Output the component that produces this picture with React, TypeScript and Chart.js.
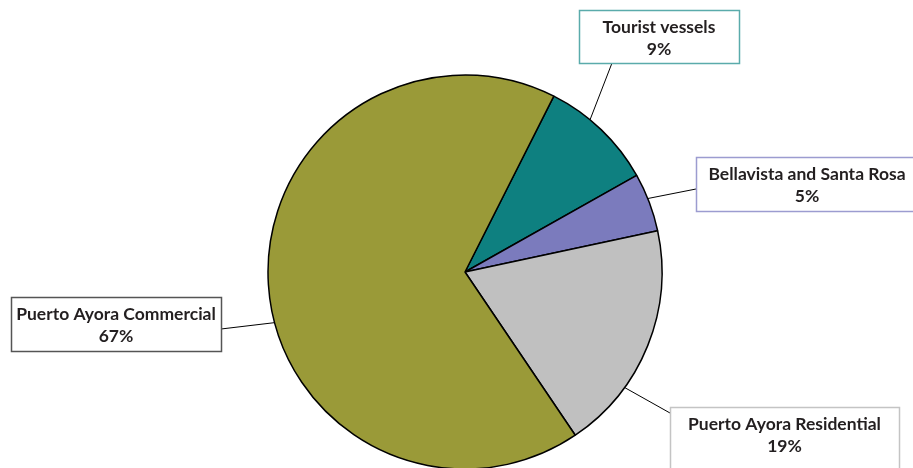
import { useEffect, useRef } from "react";
import { Chart, registerables } from "chart.js";

Chart.register(...registerables);

const categories = [
  "Tourist vessels",
  "Bellavista and Santa Rosa",
  "Puerto Ayora Residential",
  "Puerto Ayora Commercial",
];
const shares = [9.4, 4.8, 18.9, 66.9];
const sliceColors = ["#0E8080", "#7B7BBD", "#C0C0C0", "#9A9A38"];
const boxBorderColors = ["#5AABAB", "#9C9CD0", "#C4C4C4", "#555555"];

// callout layout: box rectangle, line attach point on the box, anchor angle on pie (deg from top, clockwise)
const callouts = [
  { box: [579, 10, 160, 53], attach: [612, 63], angle: 39.4 },
  { box: [696, 157, 222, 54], attach: [696, 189], angle: 68.1 },
  { box: [670, 407, 229, 64], attach: [670, 413], angle: 125.9 },
  { box: [11, 297, 210, 54], attach: [221, 329], angle: 255.1 },
];

const FONT = "bold 17.5px Lato";

const calloutPlugin = {
  id: "callouts",
  afterDatasetsDraw(chart: any) {
    const ctx = chart.ctx as CanvasRenderingContext2D;
    const meta = chart.getDatasetMeta(0);
    const data = chart.data.datasets[0].data as number[];
    const total = data.reduce((a, b) => a + b, 0);
    meta.data.forEach((arc: any, i: number) => {
      const { x, y, outerRadius } = arc.getProps(["x", "y", "outerRadius"], true);
      const c = callouts[i];
      const a = ((c.angle - 90) * Math.PI) / 180;
      const ax = x + outerRadius * Math.cos(a);
      const ay = y + outerRadius * Math.sin(a);
      ctx.save();
      ctx.strokeStyle = "#000";
      ctx.lineWidth = 1;
      ctx.beginPath();
      ctx.moveTo(ax, ay);
      ctx.lineTo(c.attach[0], c.attach[1]);
      ctx.stroke();
      const [bx, by, bw, bh] = c.box;
      ctx.fillStyle = "#fff";
      ctx.fillRect(bx, by, bw, bh);
      ctx.strokeStyle = boxBorderColors[i];
      ctx.lineWidth = 1.5;
      ctx.strokeRect(bx + 0.5, by + 0.5, bw, bh);
      ctx.fillStyle = "#231F20";
      ctx.font = FONT;
      ctx.textAlign = "center";
      ctx.textBaseline = "middle";
      const cx = bx + bw / 2;
      const pct = Math.round((data[i] / total) * 100) + "%";
      ctx.fillText(chart.data.labels[i], cx, by + 17);
      ctx.fillText(pct, cx, by + 39.5);
      ctx.restore();
    });
  },
};

export default function App() {
  const ref = useRef<HTMLCanvasElement | null>(null);
  useEffect(() => {
    if (!ref.current) return;
    const chart = new Chart(ref.current, {
      type: "pie",
      data: {
        labels: categories,
        datasets: [
          {
            data: shares,
            backgroundColor: sliceColors,
            borderColor: "#000",
            borderWidth: 1.5,
          },
        ],
      },
      options: {
        responsive: false,
        animation: false,
        rotation: 26.8,
        radius: 197,
        layout: { padding: { top: 76, bottom: 0, left: 17, right: 0 } },
        plugins: {
          legend: { display: false },
          tooltip: { enabled: false },
        },
      },
      plugins: [calloutPlugin],
    });
    return () => chart.destroy();
  }, []);
  return (
    <div style={{ position: "fixed", left: 0, top: 0, width: 913, height: 468, background: "#fff" }}>
      <canvas ref={ref} width={913} height={468} style={{ width: 913, height: 468, display: "block" }} />
    </div>
  );
}
